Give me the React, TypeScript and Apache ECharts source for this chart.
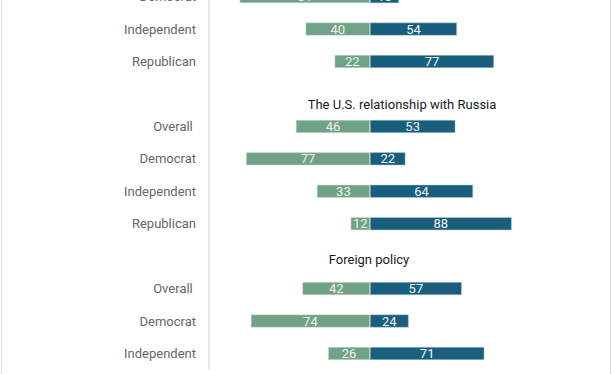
import React, { useEffect, useRef } from "react";
import * as echarts from "echarts";

const rowLabels = [
  "Democrat",
  "Independent",
  "Republican",
  "",
  "Overall ",
  "Democrat",
  "Independent",
  "Republican",
  "",
  "Overall ",
  "Democrat",
  "Independent",
];
const disapprove = [81, 40, 22, null, 46, 77, 33, 12, null, 42, 74, 26];
const approve = [18, 54, 77, null, 53, 22, 64, 88, null, 57, 24, 71];
const sectionTitles = [
  { text: "The U.S. relationship with Russia", x: 402, y: 104 },
  { text: "Foreign policy", x: 369, y: 259 },
];

const OFFSET = 40;

export default function App() {
  const ref = useRef<HTMLDivElement>(null);
  useEffect(() => {
    if (!ref.current) return;
    const chart = echarts.init(ref.current, null, { renderer: "svg" });
    const cats = rowLabels.map((_, i) => String(i));
    const labelStyle = {
      show: true,
      position: "inside" as const,
      color: "#f2f2f2",
      fontFamily: "Roboto",
      fontSize: 13,
      formatter: (p: any) => (p.value == null ? "" : String(Math.abs(p.value))),
    };
    chart.setOption({
      animation: false,
      backgroundColor: "#ffffff",
      grid: { left: 209, right: 81, top: OFFSET - 19.6, bottom: 4.3, containLabel: false },
      xAxis: {
        type: "value",
        min: -100,
        max: 100,
        show: false,
      },
      yAxis: {
        type: "category",
        inverse: true,
        data: cats,
        axisLine: { show: true, onZero: false, lineStyle: { color: "#e3e3e3", width: 1.5 } },
        axisTick: { show: false },
        axisLabel: {
          margin: 13,
          color: "#666666",
          fontFamily: "Roboto",
          fontSize: 13,
          formatter: (_v: string, i: number) => rowLabels[i],
        },
      },
      series: [
        {
          type: "bar",
          stack: "s",
          barWidth: 13,
          data: disapprove.map((v) => (v == null ? null : -v)),
          itemStyle: { color: "#6fa287", borderColor: "#d8e6dd", borderWidth: 0.5 },
          label: labelStyle,
        },
        {
          type: "bar",
          stack: "s",
          barWidth: 13,
          data: approve,
          itemStyle: { color: "#1a5e7d", borderColor: "#bcd0da", borderWidth: 0.5 },
          label: labelStyle,
        },
      ],
      graphic: [
        {
          type: "line",
          shape: { x1: 1.5, y1: 0, x2: 1.5, y2: 374 + OFFSET },
          style: { stroke: "#dddddd", lineWidth: 1 },
        },
        {
          type: "line",
          shape: { x1: 610.5, y1: 0, x2: 610.5, y2: 374 + OFFSET },
          style: { stroke: "#dddddd", lineWidth: 1 },
        },
        ...sectionTitles.map((t) => ({
          type: "text",
          x: t.x,
          y: t.y + OFFSET,
          style: {
            text: t.text,
            fill: "#1a1a1a",
            font: "13px Roboto",
            textAlign: "center",
            textVerticalAlign: "middle",
          },
        })),
      ],
    });
    return () => chart.dispose();
  }, []);
  return (
    <div
      ref={ref}
      style={{ position: "fixed", left: 0, top: -OFFSET, width: 612, height: 374 + OFFSET }}
    />
  );
}
